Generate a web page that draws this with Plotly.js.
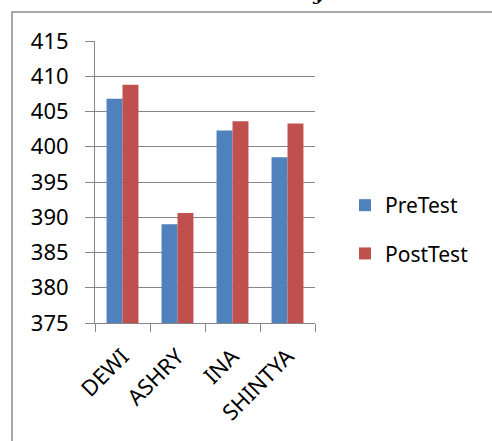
<!DOCTYPE html>
<html>
<head>
<meta charset="utf-8">
<script src="https://cdn.plot.ly/plotly-3.0.1.min.js"></script>
<style>html,body{margin:0;padding:0;background:#fff;}#chart{width:492px;height:441px;}</style>
</head>
<body>
<div id="chart"></div>
<script>
const categories = ["DEWI", "ASHRY", "INA", "SHINTYA"];
const preTest = [406.8, 389.0, 402.3, 398.5];
const postTest = [408.8, 390.6, 403.6, 403.3];
const yTicks = [375, 380, 385, 390, 395, 400, 405, 410, 415];

const W = 492, H = 441;
const m = {l: 95, r: 177, t: 41, b: 118};
const pw = W - m.l - m.r, ph = H - m.t - m.b;
const px = v => (v - m.l) / pw;
const py = v => 1 - (v - m.t) / ph;

const font = "Noto Sans, Open Sans, Liberation Sans, sans-serif";

const traces = [
  {type: "bar", name: "PreTest", x: categories, y: preTest, marker: {color: "#4F81BD"}, legendgroup: "a"},
  {type: "bar", name: "PostTest", x: categories, y: postTest, marker: {color: "#C0504D"}, legendgroup: "b"}
];

const layout = {
  width: W, height: H,
  margin: m,
  paper_bgcolor: "#fff", plot_bgcolor: "#fff",
  barmode: "group",
  bargap: 0.42,
  bargroupgap: 0,
  showlegend: true,
  legend: {x: px(345), xanchor: "left", y: py(185), yanchor: "top",
           font: {family: font, size: 21, color: "#000"},
           tracegroupgap: 18, traceorder: "grouped", itemwidth: 30},
  xaxis: {type: "category", tickson: "boundaries", ticks: "outside", ticklen: 8,
          tickcolor: "#868686", showline: true, linecolor: "#868686", linewidth: 1,
          tickangle: -45, tickfont: {family: font, size: 22, color: "#000"},
          ticklabelstandoff: 11,
          showgrid: false, fixedrange: true},
  yaxis: {range: [375, 415], tickvals: yTicks, ticktext: yTicks.map(String),
          ticks: "outside", ticklen: 9, tickcolor: "#868686",
          showline: true, linecolor: "#868686", linewidth: 1,
          showgrid: true, gridcolor: "#868686", gridwidth: 1,
          ticklabelstandoff: 12,
          tickfont: {family: font, size: 22, color: "#000"}, zeroline: false, fixedrange: true},
  shapes: [
    {type: "rect", xref: "paper", yref: "paper", x0: px(12), x1: px(520), y0: py(12), y1: py(470),
     line: {color: "#8a8a8a", width: 1.5}, fillcolor: "rgba(0,0,0,0)", layer: "below"}
  ],
  annotations: [
    {xref: "paper", yref: "paper", x: px(319), y: py(6), xanchor: "center", yanchor: "bottom",
     text: "<b><i>y</i></b>", showarrow: false, borderpad: 0,
     font: {family: "DejaVu Serif, serif", size: 20, color: "#000"}}
  ]
};

Plotly.newPlot("chart", traces, layout, {displayModeBar: false, staticPlot: true});
</script>
</body>
</html>
